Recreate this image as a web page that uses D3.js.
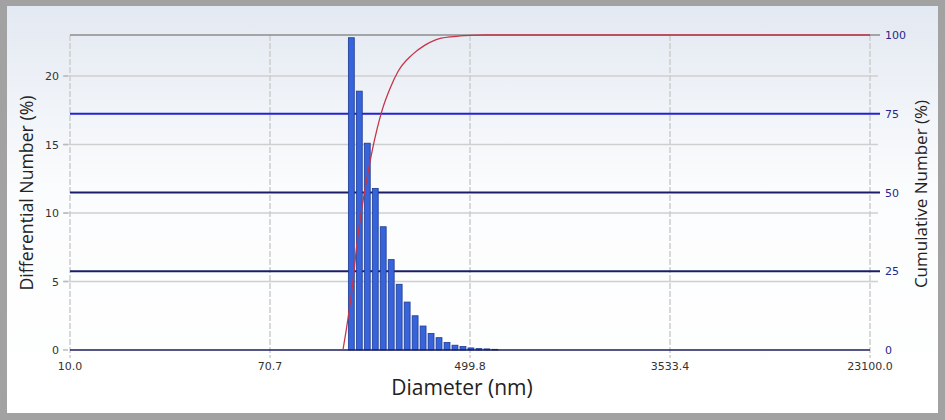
<!DOCTYPE html>
<html>
<head>
<meta charset="utf-8">
<script src="https://cdn.jsdelivr.net/npm/d3@7"></script>
<style>
  body { margin: 0; background: #fff; }
  svg { display: block; font-family: "DejaVu Sans", sans-serif; }
</style>
</head>
<body>
<svg id="canvas"></svg>
<script>
// bar data (bin centre diameters in nm, differential number %)
let binDiameters = [156.6, 169.3, 183.0, 197.9, 213.9, 231.3, 250.0, 270.3, 292.2, 315.9,
                    341.5, 369.2, 399.2, 431.5, 466.5, 504.4, 545.3, 589.5, 637.3]
let binValues = [22.8, 18.9, 15.1, 11.8, 9.0, 6.6, 4.8, 3.5, 2.5, 1.75,
                 1.2, 0.9, 0.55, 0.35, 0.25, 0.15, 0.1, 0.08, 0.05]

// cumulative curve
let cumDiameters = [144.3, 159.2, 163.9, 170.4, 179.0, 191.7, 211.4, 228.6, 247.2, 283.5,
                    321.9, 355.0, 423.1, 499.7, 578.7, 24981]
let cumValues = [0, 22, 31, 41, 51, 63, 76, 83, 88.4, 93.7,
                 96.8, 98.4, 99.5, 99.9, 100, 100]

// axis ticks (the last label sits at the right end of the axis)
let xTickValues = [10.0, 70.7, 499.8, 3533.4, 24981]
let xTickLabels = ['10.0', '70.7', '499.8', '3533.4', '23100.0']
let leftTicks = [0, 5, 10, 15, 20]
let rightTicks = [0, 25, 50, 75, 100]

let width = 945
let height = 420

let svg = d3.select('#canvas').attr('width', width).attr('height', height)

let plotLeft = 70, plotRight = 870, plotTop = 35, plotBottom = 350

let x = d3.scaleLog().domain([10, 24981]).range([plotLeft, plotRight])
let yL = d3.scaleLinear().domain([0, 23]).range([plotBottom, plotTop])
let yR = d3.scaleLinear().domain([0, 100]).range([plotBottom, plotTop])

// background + frame
let defs = svg.append('defs')
let grad = defs.append('linearGradient').attr('id', 'bg')
    .attr('x1', 0).attr('y1', 0).attr('x2', 0).attr('y2', 1)
grad.append('stop').attr('offset', '0%').attr('stop-color', '#e3e9f2')
grad.append('stop').attr('offset', '45%').attr('stop-color', '#fbfcfd')
grad.append('stop').attr('offset', '100%').attr('stop-color', '#ffffff')

svg.append('rect').attr('width', width).attr('height', height).attr('fill', '#a2a2a2')
svg.append('rect').attr('x', 7).attr('y', 6).attr('width', width - 14).attr('height', height - 13)
   .attr('fill', 'url(#bg)')

// grid lines
svg.append('g').selectAll('line').data(leftTicks.filter(d => d > 0)).enter().append('line')
   .attr('x1', plotLeft - 6).attr('x2', plotRight + 8)
   .attr('y1', d => yL(d)).attr('y2', d => yL(d))
   .attr('stroke', '#cfcfcf').attr('stroke-width', 1.5)

svg.append('g').selectAll('line').data(xTickValues).enter().append('line')
   .attr('x1', d => x(d)).attr('x2', d => x(d))
   .attr('y1', plotTop).attr('y2', plotBottom + 8)
   .attr('stroke', '#cdcdcd').attr('stroke-width', 1.5)
   .attr('stroke-dasharray', '6,2')

// top frame line
svg.append('line').attr('x1', plotLeft).attr('x2', plotRight)
   .attr('y1', plotTop).attr('y2', plotTop)
   .attr('stroke', '#8c8c8c').attr('stroke-width', 1.5)

// cumulative reference lines
svg.append('g').selectAll('line').data(rightTicks.filter(d => d > 0 && d < 100)).enter().append('line')
   .attr('x1', plotLeft).attr('x2', plotRight + 10)
   .attr('y1', d => yR(d)).attr('y2', d => yR(d))
   .attr('stroke', d => d === 75 ? '#2323d6' : '#1c1c6a').attr('stroke-width', 2)

// bars
let ratio = binDiameters[1] / binDiameters[0]
let half = Math.pow(ratio, 0.37)
svg.append('g').selectAll('rect').data(binDiameters).enter().append('rect')
   .attr('x', (d) => x(d / half))
   .attr('width', (d) => x(d * half) - x(d / half))
   .attr('y', (d, i) => yL(binValues[i]))
   .attr('height', (d, i) => plotBottom - yL(binValues[i]))
   .attr('fill', '#3763dc')
   .attr('stroke', '#1d3b8e').attr('stroke-width', 0.8)

// baseline
svg.append('line').attr('x1', plotLeft).attr('x2', plotRight)
   .attr('y1', plotBottom).attr('y2', plotBottom)
   .attr('stroke', '#1c1c5a').attr('stroke-width', 1.5)

// cumulative curve
let line = d3.line()
    .x((d, i) => x(cumDiameters[i]))
    .y((d, i) => yR(cumValues[i]))
    .curve(d3.curveMonotoneX)
svg.append('path').datum(cumValues).attr('d', line)
   .attr('fill', 'none').attr('stroke', '#c4354a').attr('stroke-width', 1.3)
svg.append('line').attr('x1', plotRight).attr('x2', plotRight + 10)
   .attr('y1', plotTop).attr('y2', plotTop)
   .attr('stroke', '#8c8c8c').attr('stroke-width', 1.5)

// left axis
svg.append('g').selectAll('line').data(leftTicks).enter().append('line')
   .attr('x1', plotLeft - 7).attr('x2', plotLeft - 2)
   .attr('y1', d => yL(d)).attr('y2', d => yL(d))
   .attr('stroke', '#bbbbbb').attr('stroke-width', 1.5)
svg.append('g').selectAll('text').data(leftTicks).enter().append('text')
   .attr('x', plotLeft - 11).attr('y', d => yL(d) + 4)
   .attr('text-anchor', 'end').attr('font-size', 11).attr('fill', '#333')
   .text(d => d)

// right axis
svg.append('g').selectAll('text').data(rightTicks).enter().append('text')
   .attr('x', plotRight + 15).attr('y', d => yR(d) + 4)
   .attr('font-size', 11).attr('fill', '#27278a')
   .text(d => d)

// x axis labels
svg.append('g').selectAll('text').data(xTickValues).enter().append('text')
   .attr('x', d => x(d)).attr('y', plotBottom + 20)
   .attr('text-anchor', 'middle').attr('font-size', 11).attr('fill', '#333')
   .text((d, i) => xTickLabels[i])

// titles
svg.append('text').attr('x', 462).attr('y', 395)
   .attr('text-anchor', 'middle').attr('font-family', 'Open Sans').attr('font-size', 21)
   .attr('fill', '#222').text('Diameter (nm)')
svg.append('text').attr('transform', 'translate(33,193) rotate(-90)')
   .attr('text-anchor', 'middle').attr('font-family', 'Open Sans').attr('font-size', 17.7)
   .attr('fill', '#222').text('Differential Number (%)')
svg.append('text').attr('transform', 'translate(927,194) rotate(-90)')
   .attr('text-anchor', 'middle').attr('font-family', 'Open Sans').attr('font-size', 17)
   .attr('fill', '#222').text('Cumulative Number (%)')
</script>
</body>
</html>
